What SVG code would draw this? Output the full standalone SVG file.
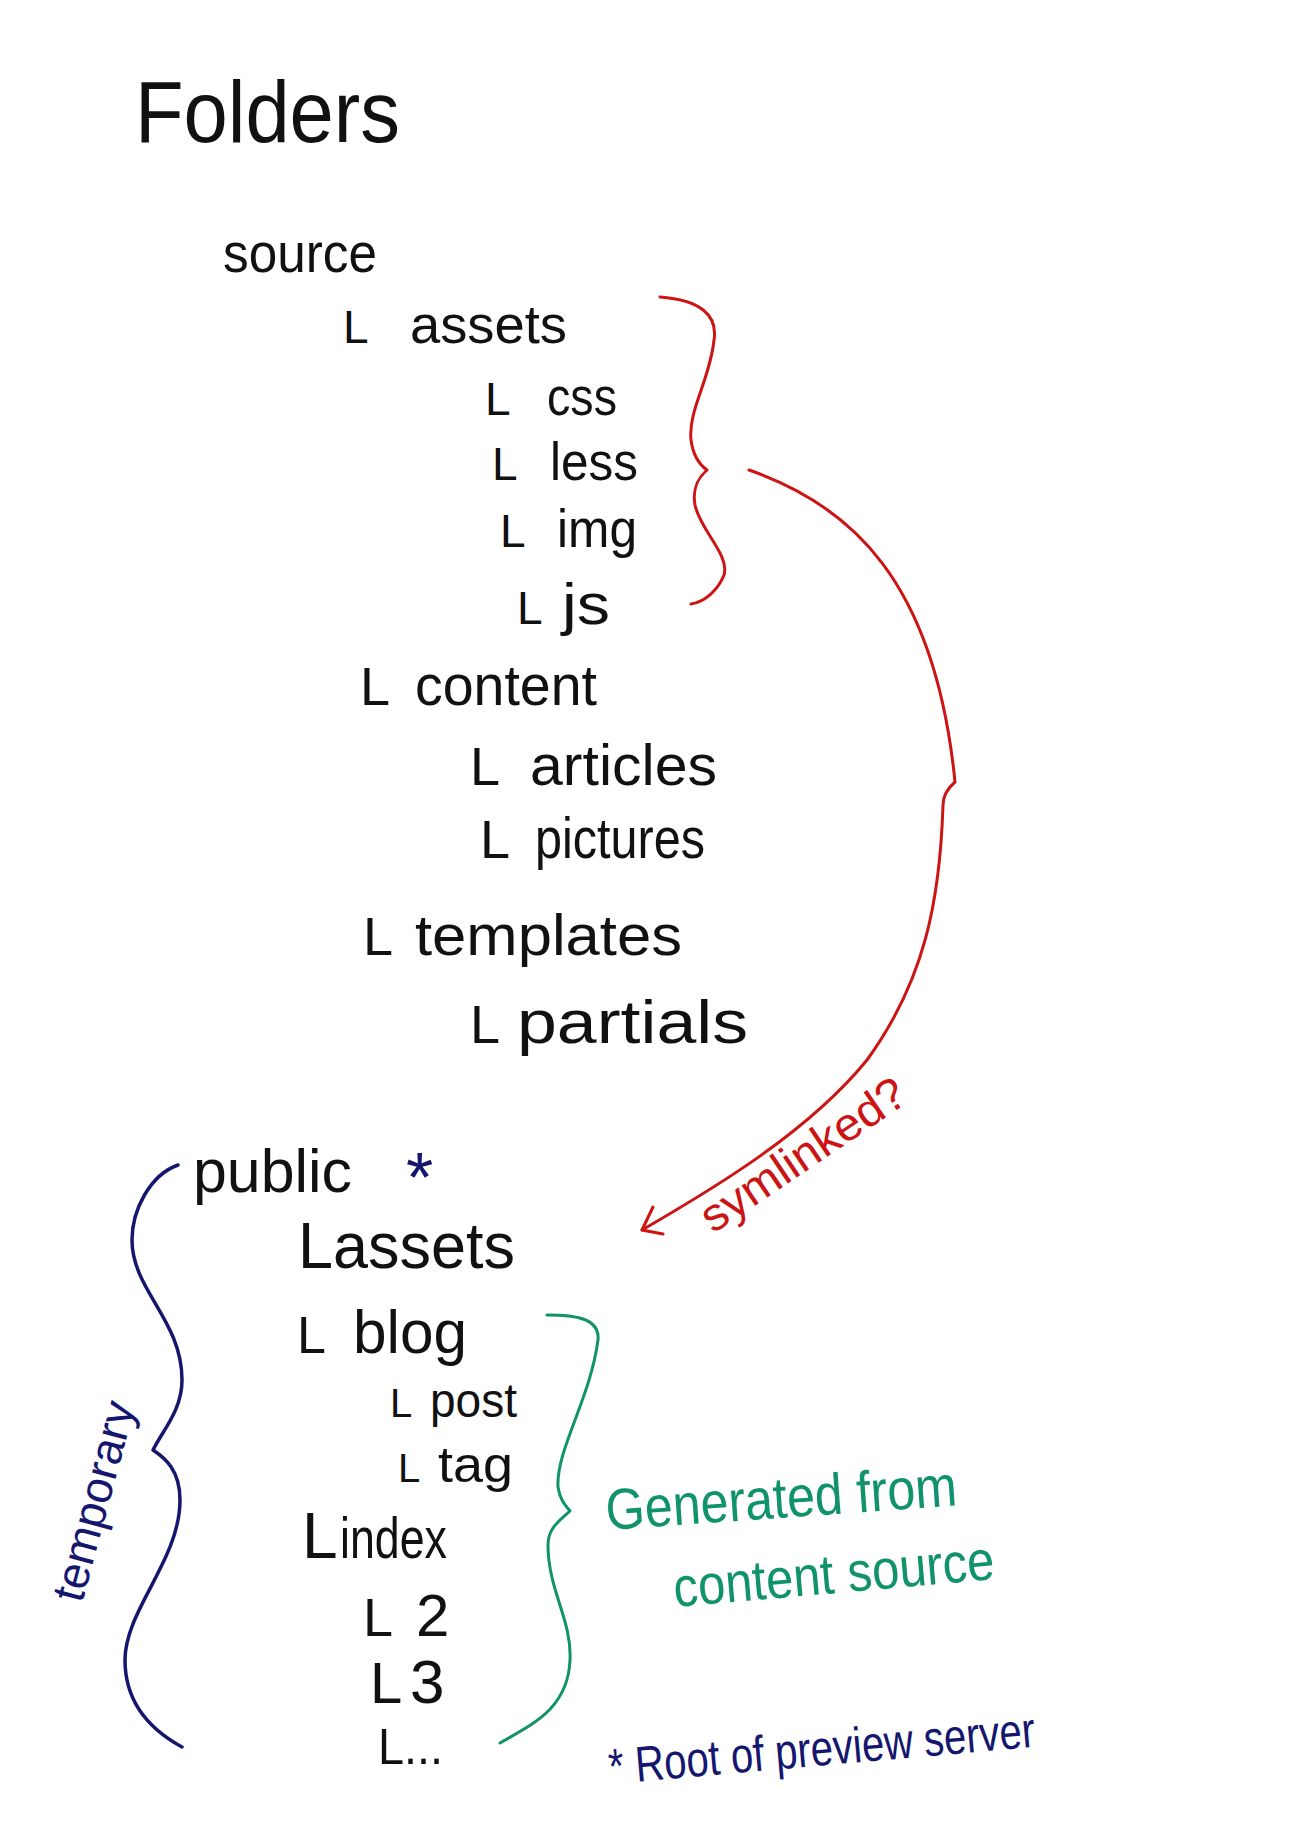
<svg xmlns="http://www.w3.org/2000/svg" width="1301" height="1822" viewBox="0 0 1301 1822">
<style>
text{font-family:"Liberation Sans","DejaVu Sans",sans-serif}
.k{fill:#111}
.r{fill:#cc1414}
.b{fill:#15166e}
.g{fill:#10936a}
.sr{fill:none;stroke:#cc1414;stroke-width:3;stroke-linecap:round;stroke-linejoin:round}
.sb{fill:none;stroke:#15166e;stroke-width:3.5;stroke-linecap:round;stroke-linejoin:round}
.sg{fill:none;stroke:#10936a;stroke-width:3;stroke-linecap:round;stroke-linejoin:round}
</style>
<rect width="1301" height="1822" fill="#fff"/>
<g id="title"><text class="k" x="135" y="142" font-size="88" textLength="265" lengthAdjust="spacingAndGlyphs">Folders</text></g>
<g id="source"><text class="k" x="223" y="272" font-size="56" textLength="154" lengthAdjust="spacingAndGlyphs">source</text></g>
<g id="assets"><text class="k" y="343" font-size="54"><tspan x="343" font-size="46">L</tspan><tspan x="410" textLength="157" lengthAdjust="spacingAndGlyphs">assets</tspan></text></g>
<g id="css"><text class="k" y="415" font-size="54"><tspan x="485" font-size="46">L</tspan><tspan x="547" textLength="70" lengthAdjust="spacingAndGlyphs">css</tspan></text></g>
<g id="less"><text class="k" y="480" font-size="54"><tspan x="492" font-size="46">L</tspan><tspan x="550" textLength="88" lengthAdjust="spacingAndGlyphs">less</tspan></text></g>
<g id="img"><text class="k" y="547" font-size="54"><tspan x="500" font-size="46">L</tspan><tspan x="557" textLength="80" lengthAdjust="spacingAndGlyphs">img</tspan></text></g>
<g id="js"><text class="k" y="624" font-size="58"><tspan x="517" font-size="46">L</tspan><tspan x="562" textLength="48" lengthAdjust="spacingAndGlyphs">js</tspan></text></g>
<g id="content"><text class="k" y="705" font-size="58"><tspan x="360" font-size="54">L</tspan><tspan x="415" textLength="182" lengthAdjust="spacingAndGlyphs">content</tspan></text></g>
<g id="articles"><text class="k" y="785" font-size="58"><tspan x="470" font-size="54">L</tspan><tspan x="530" textLength="187" lengthAdjust="spacingAndGlyphs">articles</tspan></text></g>
<g id="pictures"><text class="k" y="858" font-size="58"><tspan x="480" font-size="54">L</tspan><tspan x="535" textLength="170" lengthAdjust="spacingAndGlyphs">pictures</tspan></text></g>
<g id="templates"><text class="k" y="955" font-size="58"><tspan x="363" font-size="54">L</tspan><tspan x="415" textLength="267" lengthAdjust="spacingAndGlyphs">templates</tspan></text></g>
<g id="partials"><text class="k" y="1043" font-size="62"><tspan x="470" font-size="54">L</tspan><tspan x="517" textLength="231" lengthAdjust="spacingAndGlyphs">partials</tspan></text></g>
<g id="public"><text class="k" x="193" y="1192" font-size="62" textLength="159" lengthAdjust="spacingAndGlyphs">public</text><text class="b" x="406" y="1202" font-size="70">*</text></g>
<g id="public-assets"><text class="k" x="298" y="1268" font-size="64" textLength="217" lengthAdjust="spacingAndGlyphs">Lassets</text></g>
<g id="blog"><text class="k" y="1353" font-size="62"><tspan x="297" font-size="52">L</tspan><tspan x="353" textLength="114" lengthAdjust="spacingAndGlyphs">blog</tspan></text></g>
<g id="post"><text class="k" y="1417" font-size="48"><tspan x="390" font-size="40">L</tspan><tspan x="430" textLength="87" lengthAdjust="spacingAndGlyphs">post</tspan></text></g>
<g id="tag"><text class="k" y="1482" font-size="50"><tspan x="398" font-size="40">L</tspan><tspan x="438" textLength="75" lengthAdjust="spacingAndGlyphs">tag</tspan></text></g>
<g id="index"><text class="k" y="1558" font-size="58"><tspan x="302" font-size="64">L</tspan><tspan x="340" textLength="107" lengthAdjust="spacingAndGlyphs">index</tspan></text></g>
<g id="p2"><text class="k" y="1636" font-size="60"><tspan x="363" font-size="54">L</tspan><tspan x="416">2</tspan></text></g>
<g id="p3"><text class="k" y="1703" font-size="62"><tspan x="370" font-size="58">L</tspan><tspan x="410">3</tspan></text></g>
<g id="more"><text class="k" x="378" y="1764" font-size="50" textLength="65" lengthAdjust="spacingAndGlyphs">L...</text></g>
<g id="symlinked-label"><text class="r" transform="translate(713,1234) rotate(-34)" font-size="46" textLength="238" lengthAdjust="spacingAndGlyphs">symlinked?</text></g>
<g id="temporary-label"><text class="b" transform="translate(82,1604) rotate(-75)" font-size="46" textLength="205" lengthAdjust="spacingAndGlyphs">temporary</text></g>
<g id="generated-label"><text class="g" transform="translate(607,1530) rotate(-4)" font-size="58" textLength="352" lengthAdjust="spacingAndGlyphs">Generated from</text><text class="g" transform="translate(675,1607) rotate(-5)" font-size="56" textLength="322" lengthAdjust="spacingAndGlyphs">content source</text></g>
<g id="root-note"><text class="b" transform="translate(610,1784) rotate(-5)" font-size="50" textLength="428" lengthAdjust="spacingAndGlyphs">* Root of preview server</text></g>
<g id="connectors">
<path class="sr" d="M660,297 C700,300 718,315 714,340 C710,380 688,410 691,440 C693,455 700,465 707,470 C698,478 692,488 695,505 C700,530 730,555 724,575 C718,590 705,602 691,604"/>
<path class="sr" d="M749,470 C850,505 935,580 955,782 C948,788 943,795 943,805 C940,900 925,980 867,1060 C810,1130 720,1185 642,1230"/>
<path class="sr" d="M653,1207 L642,1230 L663,1234"/>
<path class="sb" d="M178,1165 C150,1175 132,1210 132,1240 C132,1290 182,1320 182,1380 C182,1410 163,1430 153,1450 C165,1458 180,1470 180,1500 C180,1560 125,1610 125,1660 C125,1710 160,1735 182,1747"/>
<path class="sg" d="M547,1315 C575,1315 600,1318 598,1340 C590,1400 556,1450 558,1487 C560,1500 565,1505 570,1511 C560,1520 548,1528 548,1545 C548,1590 572,1620 570,1660 C568,1710 530,1725 500,1743"/>
</g>
</svg>
